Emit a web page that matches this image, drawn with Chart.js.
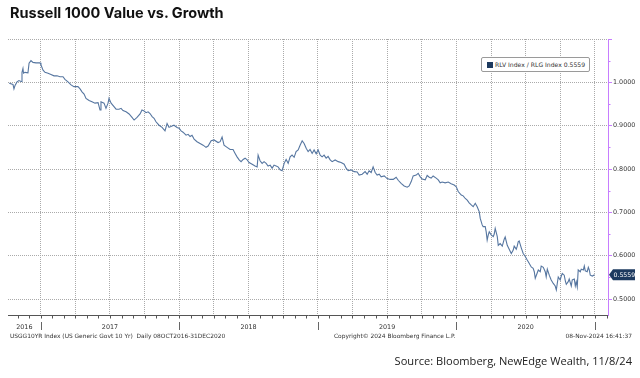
<!DOCTYPE html>
<html>
<head>
<meta charset="utf-8">
<script src="https://cdn.jsdelivr.net/npm/chart.js@4.4.1/dist/chart.umd.min.js"></script>
<style>
  html, body { margin: 0; padding: 0; background: #ffffff; }
  #wrap { position: relative; width: 640px; height: 378px; overflow: hidden; }
  canvas { position: absolute; left: 0; top: 0; }
  .txt { position: absolute; white-space: nowrap; color: #333; }
  #title { left: 10px; top: 4px; font: bold 14.5px "Inter", "Open Sans", sans-serif; color: #111; }
  .foot { top: 332.5px; font: 5.9px "DejaVu Sans", sans-serif; color: #333; }
  #source { right: 8px; top: 353px; font: 11.1px "Open Sans", sans-serif; color: #222; }
  #legend { position: absolute; left: 481px; top: 57px; width: 107px; height: 13px;
            border: 1px solid #9a9a9a; border-radius: 2px; background: #fff;
            font: 6.1px "DejaVu Sans", sans-serif; color: #333; }
  #legend .sw { position: absolute; left: 5px; top: 3.5px; width: 6px; height: 6px; background: #1d3a5f; }
  #legend .lt { position: absolute; left: 13px; top: 2.8px; white-space: nowrap; }
</style>
</head>
<body>
<div id="wrap">
  <canvas id="c" width="640" height="378"></canvas>
  <div id="title" class="txt">Russell 1000 Value vs. Growth</div>
  <div id="legend"><div class="sw"></div><div class="lt">RLV Index / RLG Index 0.5559</div></div>
  <div class="txt foot" style="left:10px;">USGG10YR Index (US Generic Govt 10 Yr)&nbsp; Daily 08OCT2016-31DEC2020</div>
  <div class="txt foot" style="left:334px;">Copyright© 2024 Bloomberg Finance L.P.</div>
  <div class="txt foot" style="right:8px;">08-Nov-2024 16:41:37</div>
  <div id="source" class="txt">Source: Bloomberg, NewEdge Wealth, 11/8/24</div>
</div>
<script>
// ---- data (dates as decimal years, values = RLV / RLG ratio) ----
const dates = [
2016.773,2016.800,2016.807,2016.814,2016.829,2016.843,2016.858,2016.865,2016.872,2016.876,
2016.887,2016.908,2016.916,2016.930,2016.944,2016.966,2016.995,2017.002,2017.017,2017.031,
2017.053,2017.074,2017.096,2017.118,2017.139,2017.161,2017.175,2017.197,2017.219,2017.240,
2017.269,2017.284,2017.298,2017.313,2017.327,2017.349,2017.370,2017.392,2017.414,2017.428,
2017.435,2017.457,2017.471,2017.486,2017.493,2017.508,2017.529,2017.544,2017.565,2017.580,
2017.594,2017.616,2017.638,2017.659,2017.674,2017.695,2017.717,2017.731,2017.746,2017.760,
2017.775,2017.789,2017.804,2017.818,2017.832,2017.854,2017.876,2017.897,2017.912,2017.926,
2017.948,2017.962,2017.984,2017.999,2018.013,2018.027,2018.049,2018.064,2018.078,2018.092,
2018.107,2018.128,2018.150,2018.172,2018.193,2018.208,2018.230,2018.251,2018.280,2018.295,
2018.309,2018.323,2018.345,2018.367,2018.388,2018.403,2018.417,2018.432,2018.446,2018.461,
2018.475,2018.490,2018.504,2018.526,2018.547,2018.562,2018.569,2018.583,2018.598,2018.612,
2018.627,2018.641,2018.656,2018.670,2018.684,2018.699,2018.713,2018.728,2018.742,2018.757,
2018.771,2018.786,2018.800,2018.814,2018.829,2018.843,2018.858,2018.872,2018.887,2018.901,
2018.916,2018.930,2018.944,2018.959,2018.973,2018.988,2019.002,2019.017,2019.031,2019.045,
2019.060,2019.074,2019.089,2019.103,2019.125,2019.147,2019.168,2019.190,2019.204,2019.219,
2019.240,2019.262,2019.284,2019.298,2019.320,2019.341,2019.356,2019.370,2019.385,2019.399,
2019.414,2019.428,2019.443,2019.457,2019.479,2019.500,2019.522,2019.544,2019.565,2019.580,
2019.601,2019.623,2019.645,2019.659,2019.674,2019.688,2019.710,2019.724,2019.739,2019.753,
2019.775,2019.789,2019.804,2019.818,2019.832,2019.854,2019.869,2019.883,2019.897,2019.919,
2019.941,2019.962,2019.984,2019.999,2020.013,2020.035,2020.049,2020.064,2020.078,2020.092,
2020.107,2020.121,2020.136,2020.150,2020.165,2020.172,2020.186,2020.193,2020.208,2020.215,
2020.222,2020.230,2020.237,2020.251,2020.266,2020.273,2020.280,2020.295,2020.302,2020.316,
2020.331,2020.345,2020.352,2020.367,2020.381,2020.396,2020.410,2020.417,2020.432,2020.439,
2020.446,2020.453,2020.468,2020.482,2020.497,2020.511,2020.526,2020.540,2020.554,2020.562,
2020.569,2020.583,2020.591,2020.605,2020.612,2020.627,2020.641,2020.648,2020.656,2020.670,
2020.684,2020.699,2020.713,2020.721,2020.728,2020.735,2020.749,2020.757,2020.764,2020.778,
2020.786,2020.793,2020.807,2020.814,2020.829,2020.836,2020.851,2020.858,2020.865,2020.872,
2020.879,2020.894,2020.901,2020.916,2020.923,2020.930,2020.944,2020.952,2020.959,2020.966,
2020.981,2020.997
];
const ratio = [
0.998,0.995,0.985,0.992,1.001,1.004,1.002,1.023,1.032,1.021,
1.023,1.022,1.044,1.050,1.046,1.045,1.045,1.040,1.028,1.023,
1.021,1.018,1.015,1.015,1.013,1.013,1.007,1.001,0.994,0.990,
0.990,0.985,0.978,0.973,0.963,0.958,0.955,0.952,0.953,0.936,
0.955,0.952,0.940,0.952,0.963,0.952,0.944,0.938,0.938,0.940,
0.935,0.932,0.927,0.919,0.913,0.919,0.927,0.936,0.934,0.930,
0.932,0.928,0.921,0.917,0.909,0.901,0.896,0.888,0.905,0.896,
0.899,0.901,0.896,0.894,0.888,0.885,0.878,0.880,0.875,0.878,
0.869,0.863,0.859,0.855,0.850,0.853,0.865,0.867,0.861,0.863,
0.874,0.855,0.850,0.845,0.845,0.836,0.828,0.821,0.817,0.822,
0.825,0.821,0.815,0.811,0.807,0.805,0.832,0.819,0.813,0.817,
0.813,0.807,0.809,0.802,0.809,0.807,0.805,0.798,0.796,0.813,
0.822,0.813,0.828,0.832,0.827,0.840,0.844,0.855,0.865,0.859,
0.848,0.840,0.845,0.836,0.844,0.835,0.844,0.832,0.828,0.832,
0.825,0.829,0.821,0.817,0.821,0.817,0.815,0.811,0.802,0.796,
0.798,0.794,0.793,0.786,0.788,0.794,0.788,0.796,0.792,0.805,
0.792,0.786,0.788,0.782,0.784,0.778,0.776,0.776,0.781,0.774,
0.767,0.761,0.758,0.761,0.771,0.784,0.786,0.790,0.782,0.777,
0.775,0.785,0.781,0.779,0.784,0.779,0.775,0.768,0.770,0.768,
0.770,0.766,0.763,0.759,0.748,0.740,0.738,0.732,0.728,0.722,
0.717,0.713,0.721,0.713,0.701,0.686,0.671,0.667,0.667,0.655,
0.636,0.648,0.655,0.648,0.644,0.650,0.663,0.644,0.624,0.628,
0.622,0.638,0.643,0.624,0.615,0.605,0.613,0.622,0.615,0.622,
0.632,0.634,0.618,0.605,0.598,0.590,0.582,0.574,0.571,0.563,
0.548,0.560,0.567,0.563,0.576,0.573,0.563,0.551,0.569,0.555,
0.544,0.536,0.530,0.521,0.536,0.551,0.544,0.553,0.559,0.555,
0.542,0.534,0.540,0.546,0.530,0.544,0.546,0.530,0.540,0.528,
0.567,0.563,0.569,0.567,0.576,0.565,0.563,0.573,0.567,0.555,
0.553,0.5559
];
const yTicks = [0.5, 0.6, 0.7, 0.8, 0.9, 1.0, 1.1];
const yMinorTicks = [0.55, 0.65, 0.75, 0.85, 0.95, 1.05];
const yearLabels = ['2016', '2017', '2018', '2019', '2020'];
const lastValue = 0.5559;

const X_MIN = 2016.764, X_MAX = 2021.094;
const Y_MIN = 0.4631, Y_MAX = 1.1;

const points = dates.map((d, i) => ({ x: d, y: ratio[i] }));

const AXIS_PURPLE = '#c77dff';
const TXT = '#333333';

const extras = {
  id: 'extras',
  afterDraw(chart) {
    const ctx = chart.ctx;
    const xs = chart.scales.x, ys = chart.scales.y;
    const area = chart.chartArea;
    ctx.save();
    // monthly tick marks below x axis
    ctx.strokeStyle = '#555';
    ctx.lineWidth = 1;
    for (let yr = 2016; yr <= 2021; yr++) {
      for (let m = 0; m < 12; m++) {
        const v = yr + m / 12;
        if (v < X_MIN || v > X_MAX) continue;
        const px = Math.round(xs.getPixelForValue(v)) + 0.5;
        ctx.beginPath();
        ctx.moveTo(px, area.bottom);
        ctx.lineTo(px, area.bottom + 3.5);
        ctx.stroke();
      }
    }
    // year separators
    ctx.strokeStyle = '#666';
    for (let yr = 2017; yr <= 2021; yr++) {
      const px = Math.round(xs.getPixelForValue(yr)) + 0.5;
      ctx.beginPath();
      ctx.moveTo(px, area.bottom + 7);
      ctx.lineTo(px, area.bottom + 15);
      ctx.stroke();
    }
    // year labels
    ctx.fillStyle = TXT;
    ctx.font = '6.4px "DejaVu Sans", sans-serif';
    ctx.textAlign = 'center';
    ctx.textBaseline = 'middle';
    yearLabels.forEach((lab) => {
      const yr = parseInt(lab, 10);
      const a = Math.max(yr, X_MIN), b = Math.min(yr + 1, 2021);
      const px = (xs.getPixelForValue(a) + xs.getPixelForValue(b)) / 2;
      ctx.fillText(lab, px, area.bottom + 12.5);
    });
    // minor purple ticks on right axis
    ctx.strokeStyle = AXIS_PURPLE;
    yMinorTicks.forEach((v) => {
      const py = Math.round(ys.getPixelForValue(v)) + 0.5;
      ctx.beginPath();
      ctx.moveTo(area.right, py);
      ctx.lineTo(area.right + 2.5, py);
      ctx.stroke();
    });
    // last value tag
    const ty = ys.getPixelForValue(lastValue);
    const x0 = area.right + 1;
    ctx.fillStyle = '#1d3a5f';
    ctx.beginPath();
    ctx.moveTo(x0, ty);
    ctx.lineTo(x0 + 4, ty - 5.5);
    ctx.lineTo(x0 + 26, ty - 5.5);
    ctx.lineTo(x0 + 26, ty + 5.5);
    ctx.lineTo(x0 + 4, ty + 5.5);
    ctx.closePath();
    ctx.fill();
    ctx.fillStyle = '#ffffff';
    ctx.textAlign = 'left';
    ctx.font = '6.2px "DejaVu Sans", sans-serif';
    ctx.fillText(lastValue.toFixed(4), x0 + 4.5, ty + 0.5);
    ctx.restore();
  }
};

new Chart(document.getElementById('c'), {
  type: 'line',
  data: {
    datasets: [{
      label: 'RLV Index / RLG Index',
      data: points,
      borderColor: '#5676a0',
      borderWidth: 1.1,
      pointRadius: 0,
      tension: 0,
      fill: false
    }]
  },
  options: {
    responsive: false,
    animation: false,
    events: [],
    layout: { padding: { left: 8, top: 39, right: 0, bottom: 0 } },
    plugins: { legend: { display: false }, tooltip: { enabled: false }, title: { display: false } },
    scales: {
      x: {
        type: 'linear',
        min: X_MIN,
        max: X_MAX,
        afterBuildTicks(scale) {
          const t = [];
          for (let q = 0; q <= 16; q++) t.push({ value: 2017 + q * 0.25 });
          scale.ticks = t;
        },
        afterFit(scale) { scale.height = 63; },
        ticks: { display: false },
        grid: { color: '#aaaaaa', drawTicks: false, lineWidth: 1 },
        border: { display: true, color: '#555555', width: 1, dash: [1, 1] }
      },
      y: {
        type: 'linear',
        position: 'right',
        min: Y_MIN,
        max: Y_MAX,
        afterBuildTicks(scale) { scale.ticks = yTicks.map(v => ({ value: v })); },
        afterFit(scale) { scale.width = 32; },
        ticks: {
          color: TXT,
          font: { family: '"DejaVu Sans", sans-serif', size: 6.4 },
          padding: 1,
          callback: (v) => (v > 1.05 ? '' : Number(v).toFixed(4))
        },
        grid: { color: '#aaaaaa', drawTicks: true, tickLength: 4, tickColor: AXIS_PURPLE, lineWidth: 1 },
        border: { display: true, color: AXIS_PURPLE, width: 1, dash: [1, 1] }
      }
    }
  },
  plugins: [extras]
});
</script>
</body>
</html>
